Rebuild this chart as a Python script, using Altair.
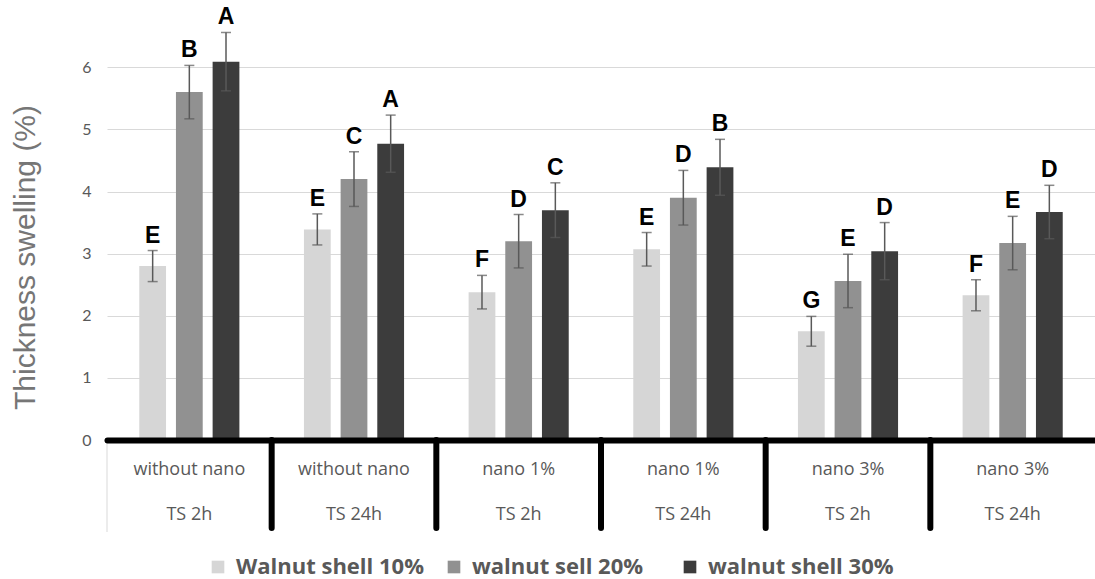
import altair as alt
import pandas as pd

# ---- data ----
groups = ["without nano|TS 2h", "without nano|TS 24h", "nano 1%|TS 2h",
          "nano 1%|TS 24h", "nano 3%|TS 2h", "nano 3%|TS 24h"]
series = ["Walnut shell 10%", "walnut sell 20%", "walnut shell 30%"]

vals_10 = [2.80, 3.39, 2.38, 3.07, 1.75, 2.33]
err_10 = [0.25, 0.25, 0.27, 0.27, 0.24, 0.25]
let_10 = ["E", "E", "F", "E", "G", "F"]

vals_20 = [5.60, 4.20, 3.20, 3.90, 2.56, 3.17]
err_20 = [0.43, 0.44, 0.43, 0.44, 0.43, 0.43]
let_20 = ["B", "C", "D", "D", "E", "E"]

vals_30 = [6.09, 4.77, 3.70, 4.39, 3.04, 3.67]
err_30 = [0.47, 0.46, 0.44, 0.45, 0.46, 0.43]
let_30 = ["A", "A", "C", "B", "D", "D"]

y_ticks = [0, 1, 2, 3, 4, 5, 6]
colors = ["#d6d6d6", "#919191", "#3c3c3c"]

rows = []
for s, v, e, l in zip(series, [vals_10, vals_20, vals_30],
                      [err_10, err_20, err_30], [let_10, let_20, let_30]):
    for g, vv, ee, ll in zip(groups, v, e, l):
        rows.append({"group": g, "series": s, "value": vv, "err": ee,
                     "letter": ll, "lo": vv - ee, "hi": vv + ee})
df = pd.DataFrame(rows)
sep_df = pd.DataFrame({"group": groups[1:]})
edge_df = pd.DataFrame({"group": groups[:1]})

W, H = 988, 410
GRAY = "#595959"

x_scale = alt.Scale(domain=groups, paddingInner=0, paddingOuter=0)
xo_scale = alt.Scale(domain=series, paddingInner=0.27, paddingOuter=0.88)
y_scale = alt.Scale(domain=[0, 6.6], nice=False)

x_enc = alt.X("group:N", scale=x_scale, sort=groups, title=None,
              axis=alt.Axis(labelExpr="split(datum.label, '|')",
                            labelAngle=0, labelAlign="center",
                            ticks=False, domain=True,
                            domainColor="black", domainWidth=6,
                            domainCap="round", labelPadding=29,
                            labelBaseline="middle", labelLineHeight=45,
                            labelFont="Open Sans", labelFontSize=18,
                            labelColor=GRAY, zindex=1, grid=False))
xo_enc = alt.XOffset("series:N", scale=xo_scale, sort=series)

bars = alt.Chart(df).mark_bar().encode(
    x=x_enc,
    xOffset=xo_enc,
    y=alt.Y("value:Q", scale=y_scale,
            title="Thickness swelling (%)",
            axis=alt.Axis(values=y_ticks, format="d", domain=False,
                          ticks=False,
                          grid=True, gridColor="#d9d9d9", gridWidth=1,
                          labelFont="Lato", labelFontSize=16,
                          labelColor=GRAY, labelPadding=16,
                          titleFont="Liberation Sans", titleFontSize=30,
                          titleFontWeight="normal", titleColor="#767676",
                          titleAngle=-90, titleAlign="center",
                          titleBaseline="middle", titleX=-82, titleY=227)),
    color=alt.Color("series:N", sort=series,
                    scale=alt.Scale(domain=series, range=colors),
                    title=None,
                    legend=alt.Legend(orient="none", direction="horizontal",
                                      legendX=100, legendY=526,
                                      symbolType="square", symbolSize=160,
                                      symbolStrokeWidth=0,
                                      labelFont="Open Sans", labelFontSize=22,
                                      labelFontWeight="bold",
                                      labelColor=GRAY, labelLimit=400,
                                      labelOffset=7, columnPadding=19,
                                      gridAlign="all")),
)

err_rules = alt.Chart(df).mark_rule(color=GRAY, strokeWidth=1.5).encode(
    x=alt.X("group:N", scale=x_scale, sort=groups),
    xOffset=xo_enc,
    y=alt.Y("lo:Q", scale=y_scale),
    y2="hi:Q",
)

caps_hi = alt.Chart(df).mark_tick(color=GRAY, thickness=1.5, size=10,
                                  orient="horizontal").encode(
    x=alt.X("group:N", scale=x_scale, sort=groups),
    xOffset=xo_enc,
    y=alt.Y("hi:Q", scale=y_scale),
)
caps_lo = alt.Chart(df).mark_tick(color=GRAY, thickness=1.5, size=10,
                                  orient="horizontal").encode(
    x=alt.X("group:N", scale=x_scale, sort=groups),
    xOffset=xo_enc,
    y=alt.Y("lo:Q", scale=y_scale),
)

letters = alt.Chart(df).mark_text(font="Liberation Sans", fontSize=23,
                                  fontWeight="bold", color="black",
                                  baseline="bottom", dy=-3).encode(
    x=alt.X("group:N", scale=x_scale, sort=groups),
    xOffset=xo_enc,
    y=alt.Y("hi:Q", scale=y_scale),
    text="letter:N",
)

seps = alt.Chart(sep_df).mark_rule(color="black", strokeWidth=6,
                                   strokeCap="round").encode(
    x=alt.X("group:N", scale=x_scale, sort=groups, bandPosition=0),
    y=alt.value(H),
    y2=alt.value(H + 88),
)

edge = alt.Chart(edge_df).mark_rule(color="#d9d9d9", strokeWidth=1).encode(
    x=alt.X("group:N", scale=x_scale, sort=groups, bandPosition=0),
    y=alt.value(H),
    y2=alt.value(H + 92),
)

chart = alt.layer(edge, bars, err_rules, caps_hi, caps_lo, letters, seps).properties(
    width=W, height=H,
    padding={"left": 107, "top": 30, "right": 0, "bottom": 139},
    autosize=alt.AutoSizeParams(type="none"),
).configure_view(strokeWidth=0)

chart.save("out.html", embed_options={"renderer": "svg", "actions": False})
